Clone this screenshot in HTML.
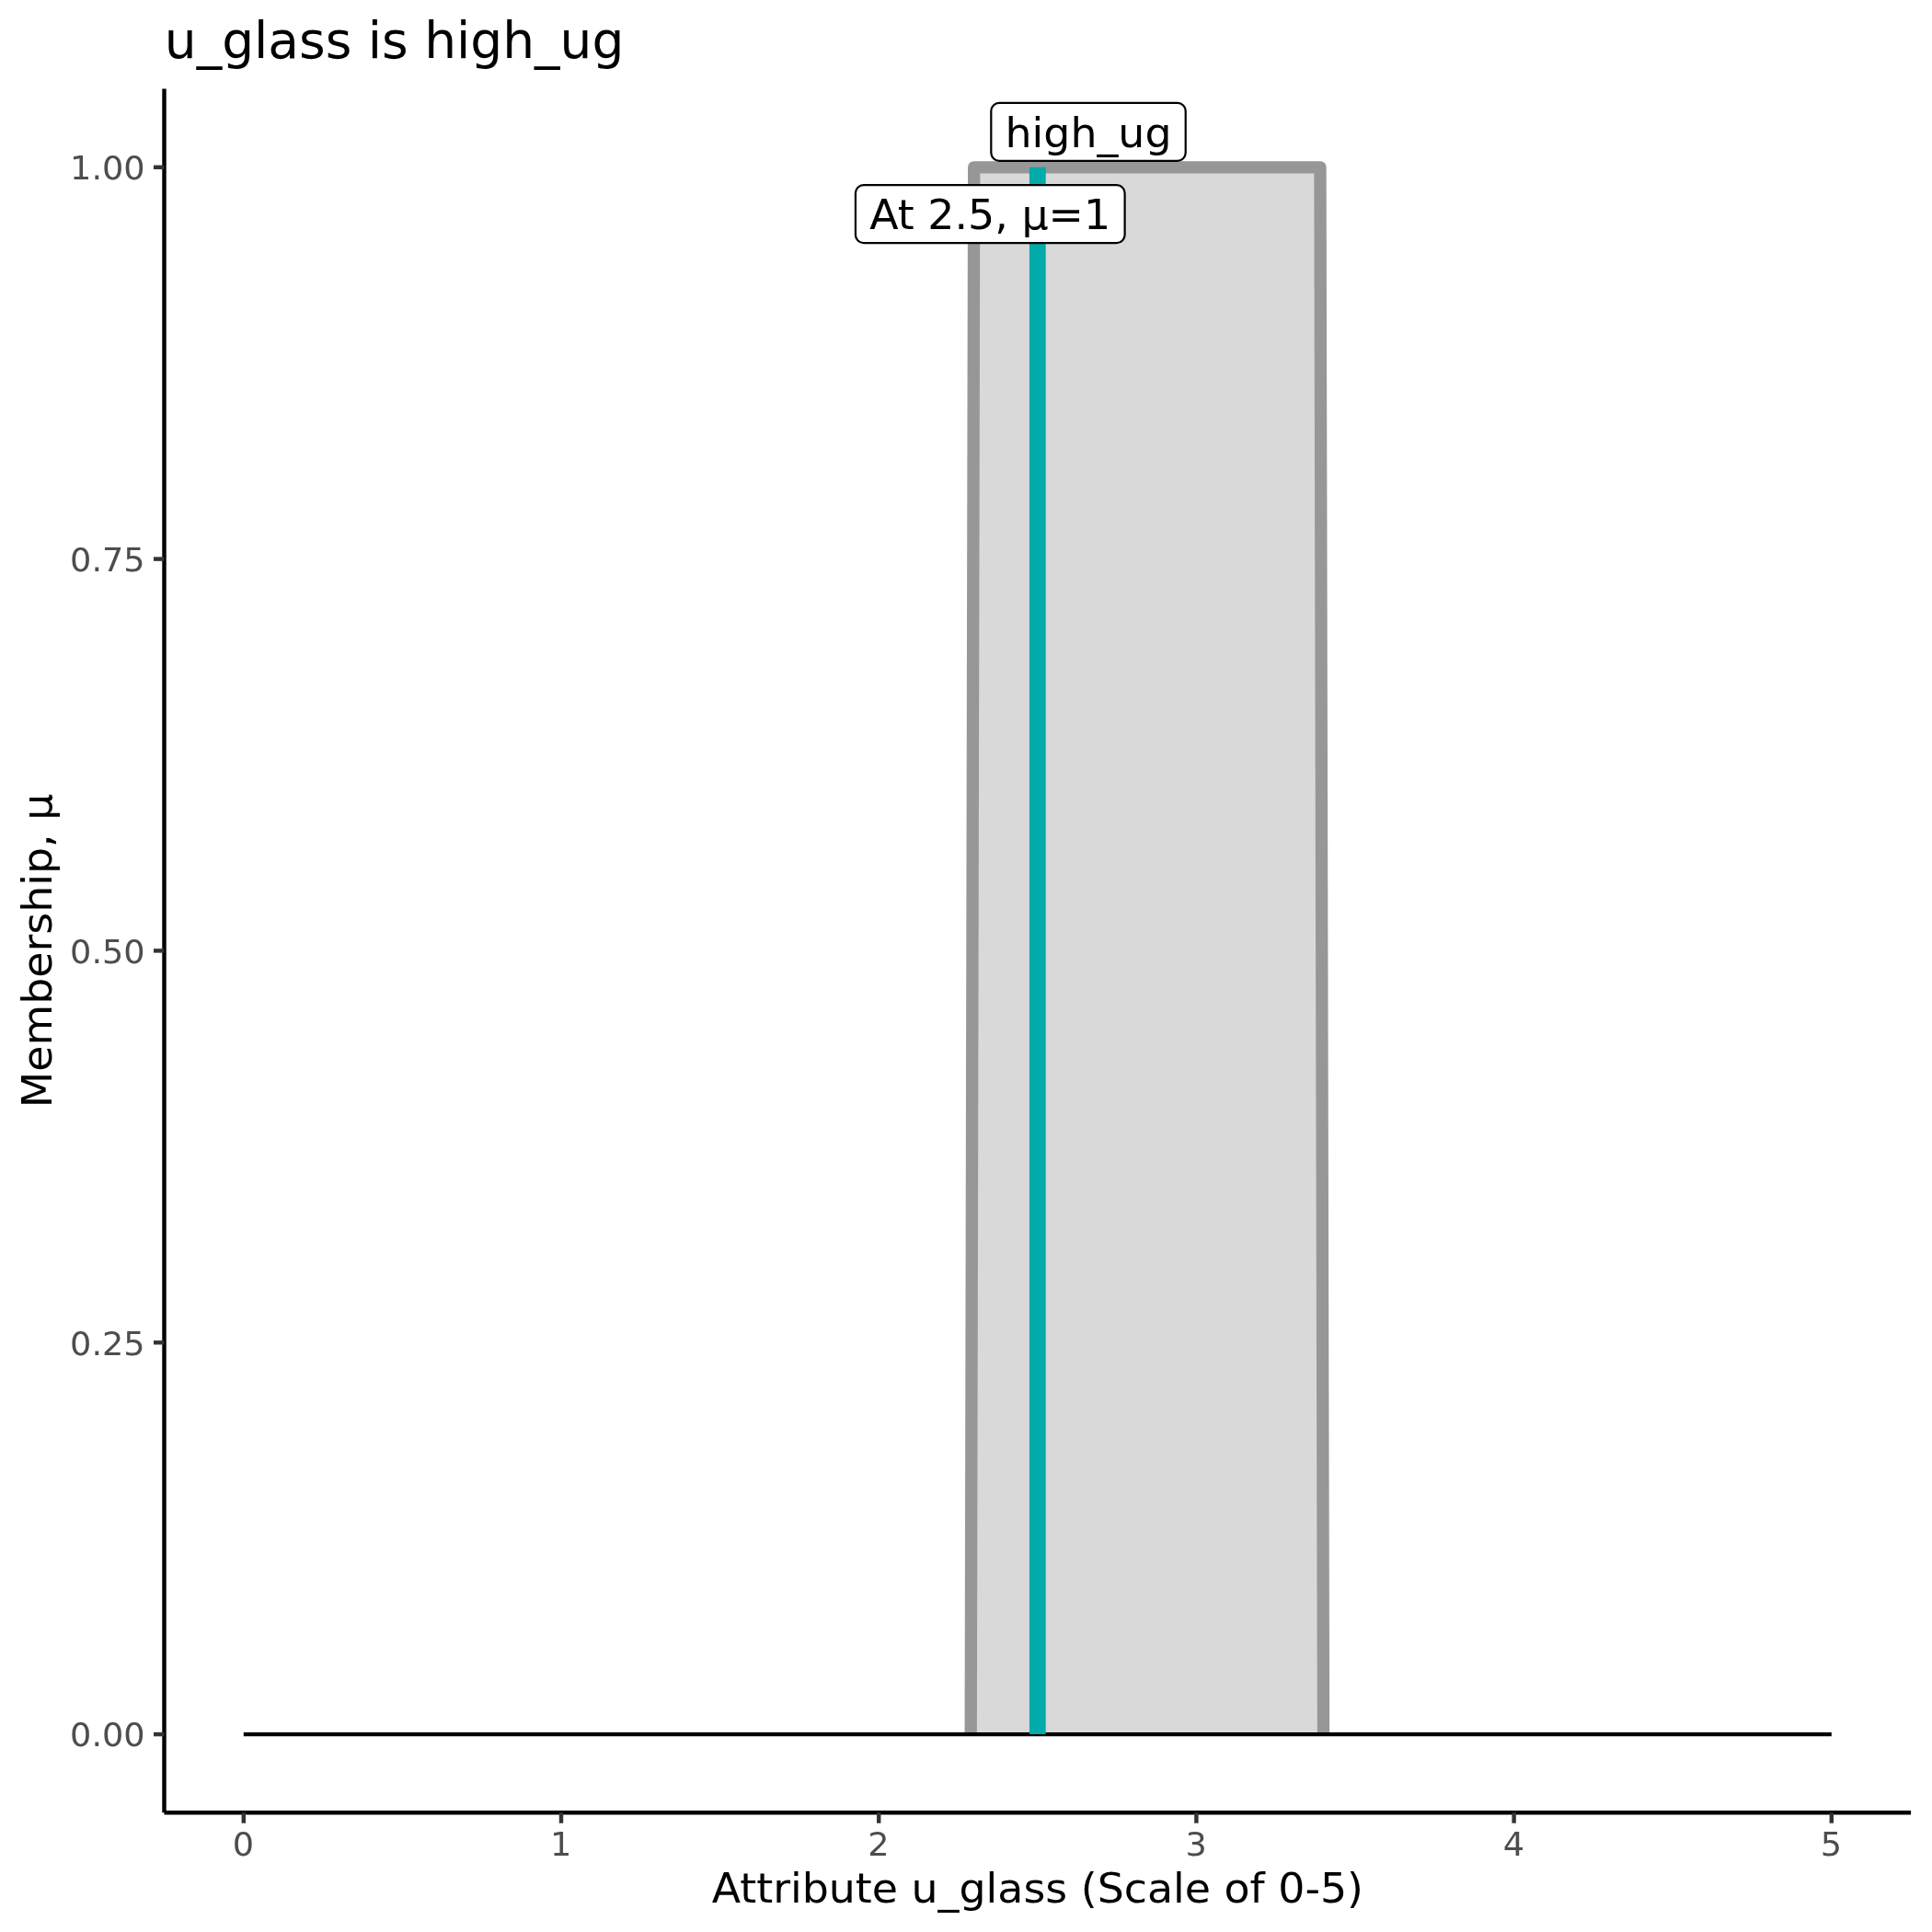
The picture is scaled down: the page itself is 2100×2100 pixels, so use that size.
<!DOCTYPE html>
<html>
<head>
<meta charset="utf-8">
<title>u_glass is high_ug</title>
<style>
html,body{margin:0;padding:0;background:#fff;}
body{width:2100px;height:2100px;overflow:hidden;}
svg{display:block;will-change:transform;}
text{font-family:"DejaVu Sans","Liberation Sans",sans-serif;}
.tick{font-size:36.67px;fill:#4D4D4D;}
.lab{font-size:45.83px;fill:#000;}
.ttl{font-size:55px;fill:#000;}
</style>
</head>
<body>
<svg width="2100" height="2100" viewBox="0 0 2100 2100">
<rect x="0" y="0" width="2100" height="2100" fill="#ffffff"/>

<!-- membership area -->
<polygon points="1055.2,1885.1 1058.7,181.8 1435.0,181.8 1438.5,1885.1" fill="#D9D9D9"/>
<polyline points="1055.2,1885.1 1058.7,181.8 1435.0,181.8 1438.5,1885.1" fill="none" stroke="#979797" stroke-width="13.33" stroke-linejoin="round" stroke-linecap="butt"/>
<!-- baseline -->
<line x1="264.8" y1="1885.1" x2="1990.8" y2="1885.1" stroke="#000" stroke-width="4.44"/>
<!-- marker at 2.5 -->
<line x1="1127.8" y1="181.8" x2="1127.8" y2="1885.1" stroke="#00ABAA" stroke-width="17.78"/>
<!-- labels -->
<rect x="1077.3" y="111.9" width="211.4" height="63" rx="8.8" ry="8.8" fill="#fff" stroke="#000" stroke-width="2.22"/>
<text class="lab" transform="translate(1183.00 159.70) scale(1 0.967)" text-anchor="middle">high_ug</text>
<rect x="929.9" y="201.1" width="292.7" height="63" rx="8.8" ry="8.8" fill="#fff" stroke="#000" stroke-width="2.22"/>
<text class="lab" transform="translate(1076.20 249.00) scale(1 0.967)" text-anchor="middle">At 2.5, μ=1</text>
<!-- axis lines -->
<line x1="178.5" y1="96.6" x2="178.5" y2="1970.3" stroke="#000" stroke-width="4.44"/>
<line x1="178.5" y1="1970.3" x2="2077.1" y2="1970.3" stroke="#000" stroke-width="4.44"/>
<!-- y ticks -->
<g stroke="#333333" stroke-width="4.44">
<line x1="167.0" x2="178.5" y1="1885.1" y2="1885.1"/>
<line x1="167.0" x2="178.5" y1="1459.3" y2="1459.3"/>
<line x1="167.0" x2="178.5" y1="1033.4" y2="1033.4"/>
<line x1="167.0" x2="178.5" y1="607.6" y2="607.6"/>
<line x1="167.0" x2="178.5" y1="181.8" y2="181.8"/>
</g>
<text class="tick" transform="translate(157.70 195.10) scale(1 0.96)" text-anchor="end">1.00</text>
<text class="tick" transform="translate(157.70 620.92) scale(1 0.96)" text-anchor="end">0.75</text>
<text class="tick" transform="translate(157.70 1046.75) scale(1 0.96)" text-anchor="end">0.50</text>
<text class="tick" transform="translate(157.70 1472.57) scale(1 0.96)" text-anchor="end">0.25</text>
<text class="tick" transform="translate(157.70 1898.40) scale(1 0.96)" text-anchor="end">0.00</text>
<!-- x ticks -->
<g stroke="#333333" stroke-width="4.44">
<line y1="1970.3" y2="1981.7" x1="264.8" x2="264.8"/>
<line y1="1970.3" y2="1981.7" x1="610.0" x2="610.0"/>
<line y1="1970.3" y2="1981.7" x1="955.2" x2="955.2"/>
<line y1="1970.3" y2="1981.7" x1="1300.4" x2="1300.4"/>
<line y1="1970.3" y2="1981.7" x1="1645.6" x2="1645.6"/>
<line y1="1970.3" y2="1981.7" x1="1990.8" x2="1990.8"/>
</g>
<text class="tick" transform="translate(264.50 2017.20) scale(1 0.96)" text-anchor="middle">0</text>
<text class="tick" transform="translate(609.70 2017.20) scale(1 0.96)" text-anchor="middle">1</text>
<text class="tick" transform="translate(954.90 2017.20) scale(1 0.96)" text-anchor="middle">2</text>
<text class="tick" transform="translate(1300.10 2017.20) scale(1 0.96)" text-anchor="middle">3</text>
<text class="tick" transform="translate(1645.30 2017.20) scale(1 0.96)" text-anchor="middle">4</text>
<text class="tick" transform="translate(1990.50 2017.20) scale(1 0.96)" text-anchor="middle">5</text>
<!-- axis titles -->
<text class="lab" transform="translate(1127.80 2067.80) scale(1 0.967)" text-anchor="middle">Attribute u_glass (Scale of 0-5)</text>
<text class="lab" transform="translate(56.00 1033.45) rotate(-90) scale(1 0.967)" text-anchor="middle">Membership, μ</text>
<!-- title -->
<text class="ttl" transform="translate(178.80 63.20) scale(1 0.988)" text-anchor="start">u_glass is high_ug</text>
</svg>
</body>
</html>
